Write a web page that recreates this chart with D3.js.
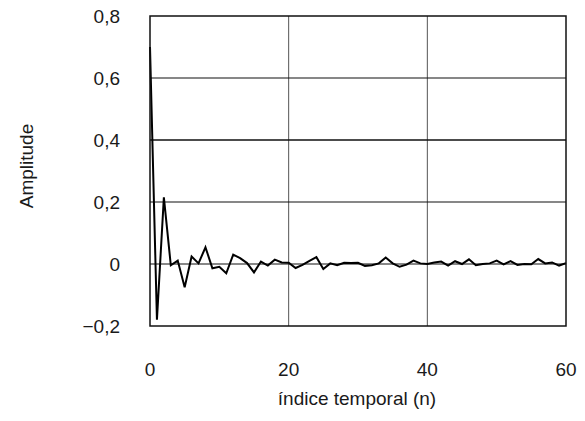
<!DOCTYPE html>
<html>
<head>
<meta charset="utf-8">
<script src="https://cdn.jsdelivr.net/npm/d3@7"></script>
<style>
html,body{margin:0;padding:0;background:#fff;}
text{font-family:"Liberation Sans",Arial,Helvetica,sans-serif;fill:#1a1a1a;}
</style>
</head>
<body>
<svg id="chart" width="585" height="421"></svg>
<script>
const nValues = d3.range(0, 61);
const amplitude = [
  0.70, -0.18, 0.215, -0.004, 0.011, -0.075, 0.024, 0.002, 0.054, -0.014,
  -0.009, -0.030, 0.030, 0.019, 0.003, -0.027, 0.008, -0.005, 0.014, 0.005,
  0.004, -0.013, -0.003, 0.010, 0.022, -0.016, 0.002, -0.004, 0.004, 0.003,
  0.004, -0.006, -0.004, 0.002, 0.021, 0.002, -0.009, -0.002, 0.011, 0.002,
  0.000, 0.005, 0.008, -0.005, 0.009, 0.000, 0.015, -0.004, 0.000, 0.002,
  0.011, -0.001, 0.009, -0.003, 0.000, -0.001, 0.016, 0.002, 0.005, -0.005,
  0.003
];
const xTicks = [0, 20, 40, 60];
const yTicks = [-0.2, 0, 0.2, 0.4, 0.6, 0.8];
const xTitle = "índice temporal (n)";
const yTitle = "Amplitude";

(function () {
const svg = d3.select("#chart");
const mLeft = 150, mRight = 566, mTop = 16, mBottom = 326;
const fs = 19;

const x = d3.scaleLinear().domain([0, 60]).range([mLeft, mRight]);
const y = d3.scaleLinear().domain([-0.2, 0.8]).range([mBottom, mTop]);

const locale = d3.formatLocale({decimal: ",", thousands: ".", grouping: [3], currency: ["", ""], minus: "\u2212"});
const fy = v => v === 0 ? "0" : locale.format(".1f")(v);

// vertical grid
svg.append("g").selectAll("line").data(xTicks.filter(t => t > 0 && t < 60)).join("line")
  .attr("x1", d => x(d)).attr("x2", d => x(d))
  .attr("y1", mTop).attr("y2", mBottom)
  .attr("stroke", "#555").attr("stroke-width", 1);

// horizontal grid
svg.append("g").selectAll("line").data(yTicks.filter(t => t > -0.2 && t < 0.8)).join("line")
  .attr("x1", mLeft).attr("x2", mRight)
  .attr("y1", d => y(d)).attr("y2", d => y(d))
  .attr("stroke", "#111").attr("stroke-width", d => d === 0.4 ? 1.6 : 1.2);

// data line
const line = d3.line().x((d, i) => x(nValues[i])).y(d => y(d));
svg.append("path").datum(amplitude)
  .attr("d", line)
  .attr("fill", "none").attr("stroke", "#000").attr("stroke-width", 2)
  .attr("stroke-linejoin", "miter");

// frame
svg.append("rect").attr("x", mLeft).attr("y", mTop)
  .attr("width", mRight - mLeft).attr("height", mBottom - mTop)
  .attr("fill", "none").attr("stroke", "#111").attr("stroke-width", 1.5);

// y tick labels
svg.append("g").selectAll("text").data(yTicks).join("text")
  .attr("x", 120).attr("y", d => y(d)).attr("dy", "0.38em")
  .attr("text-anchor", "end").attr("font-size", fs)
  .text(fy);

// x tick labels
svg.append("g").selectAll("text").data(xTicks).join("text")
  .attr("x", d => x(d)).attr("y", 376)
  .attr("text-anchor", "middle").attr("font-size", fs)
  .text(d => d);

// axis titles
svg.append("text").attr("x", 357).attr("y", 405)
  .attr("text-anchor", "middle").attr("font-size", fs).text(xTitle);
svg.append("text").attr("transform", "translate(26,166) rotate(-90)").attr("dy", "0.35em")
  .attr("text-anchor", "middle").attr("font-size", fs).text(yTitle);
})();
</script>
</body>
</html>
